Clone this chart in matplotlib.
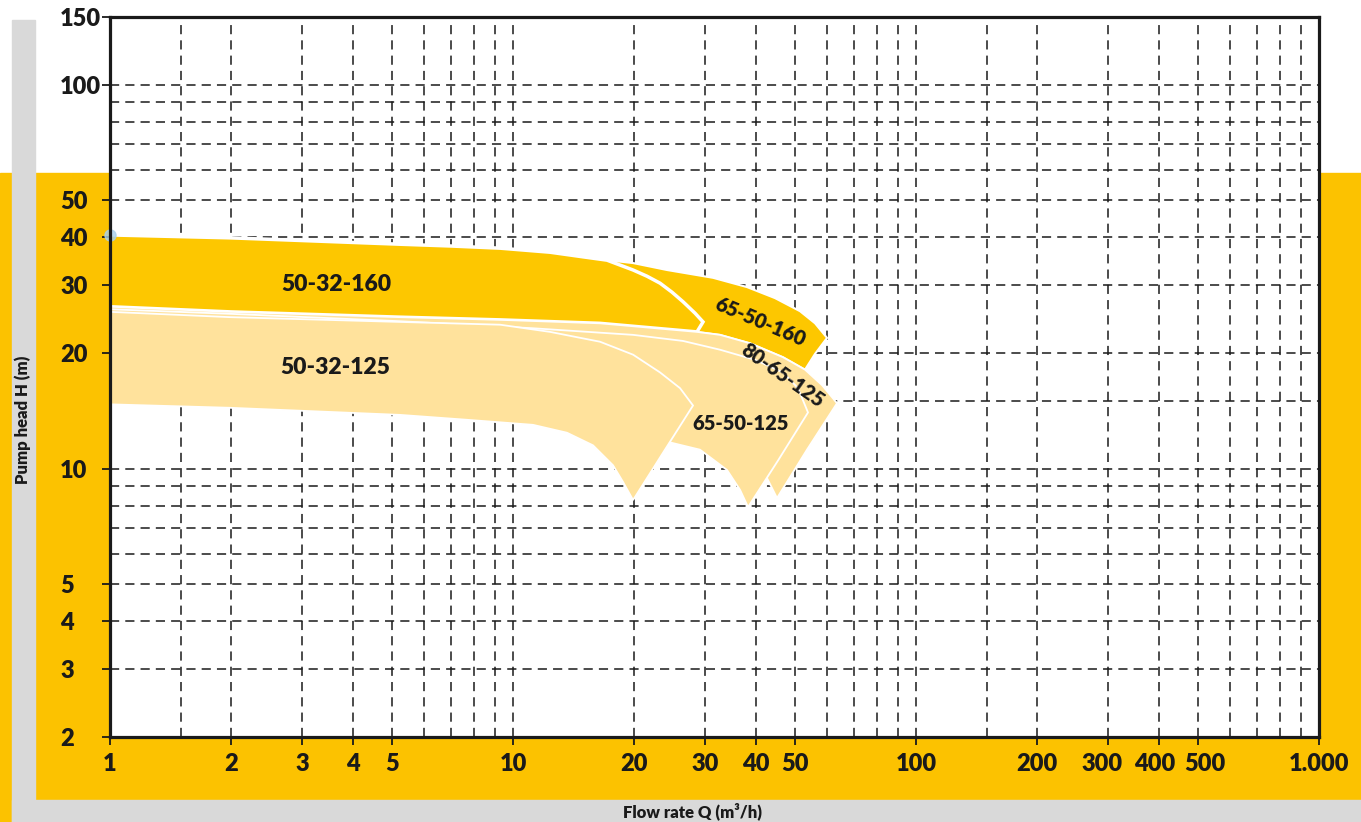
import matplotlib
matplotlib.use('Agg')
import matplotlib.pyplot as plt
from matplotlib.patches import Rectangle
from matplotlib.transforms import ScaledTranslation

# axis ticks / grid
x_ticks = [1, 2, 3, 4, 5, 10, 20, 30, 40, 50, 100, 200, 300, 400, 500, 1000]
x_labels = ['1', '2', '3', '4', '5', '10', '20', '30', '40', '50', '100', '200', '300', '400', '500', '1.000']
y_ticks = [2, 3, 4, 5, 10, 20, 30, 40, 50, 100, 150]
y_labels = ['2', '3', '4', '5', '10', '20', '30', '40', '50', '100', '150']
x_grid = [1.5, 2, 3, 4, 5, 6, 7, 8, 9, 10, 20, 30, 40, 50, 60, 70, 80, 90,
          100, 150, 200, 300, 400, 500, 600, 700, 800, 900]
y_grid = [3, 4, 5, 6, 7, 8, 9, 10, 15, 20, 30, 40, 50, 60, 70, 80, 90, 100]

# pump ranges, outline Q (m3/h) / H (m)
q_6550160 = [1, 1.985, 5.24, 6.98, 9.29, 12.36, 14.92, 17.11, 19.86, 24.11, 31.35, 38.07, 44.68,
             51.55, 56.17, 60.15, 56.17, 53.04, 46.77, 38.73, 32.63, 28.61, 16.44, 9.29, 5.24,
             1.985, 1]
h_6550160 = [40.6, 39.9, 38.4, 38.0, 37.5, 36.6, 35.6, 34.9, 34.3, 32.9, 31.4, 29.7, 27.8,
             25.7, 23.9, 21.9, 19.9, 18.1, 19.5, 21.2, 22.3, 22.7, 23.9, 24.4, 24.8,
             25.6, 26.4]

q_5032160 = [1, 1.985, 5.24, 6.98, 9.29, 12.36, 14.92, 17.11, 19.86, 21.50, 23.17, 24.81, 26.42,
             28.29, 29.62, 28.61, 16.44, 9.29, 5.24, 1.985, 1]
h_5032160 = [40.6, 39.9, 38.4, 38.0, 37.5, 36.6, 35.6, 34.9, 32.9, 31.7, 30.4, 28.8, 27.2,
             25.4, 24.1, 22.7, 23.9, 24.4, 24.8, 25.6, 26.4]

q_8065125 = [1, 1.985, 5.24, 9.29, 16.44, 28.61, 32.63, 38.73, 46.77, 53.04, 58.44, 63.68,
             53.64, 45.2, 42.68, 36.6, 16.4, 1]
h_8065125 = [26.4, 25.6, 24.8, 24.4, 23.9, 22.7, 22.3, 21.2, 19.5, 18.1, 16.5, 14.8,
             11.2, 8.38, 9.45, 11.9, 17.0, 19.2]

q_6550125 = [1, 1.985, 5.24, 11.21, 19.86, 26.42, 32.63, 39.85, 46.77, 50.96, 53.95, 45.47,
             38.3, 36.6, 33.96, 29.11, 24.52, 18.4, 1]
h_6550125 = [26.0, 25.3, 24.2, 23.2, 22.3, 21.5, 20.4, 19.2, 17.8, 16.2, 14.0, 10.5,
             7.94, 8.80, 9.92, 11.2, 11.7, 15.1, 18.6]

q_5032125 = [1, 1.985, 5.24, 9.29, 12.36, 16.44, 19.86, 23.17, 25.97, 27.97, 23.57, 19.86,
             18.75, 17.71, 15.79, 13.61, 11.21, 7.69, 5.24, 1.985, 1]
h_5032125 = [25.6, 24.8, 24.1, 23.7, 22.7, 21.4, 19.8, 17.8, 16.2, 14.6, 11.0, 8.28,
             9.23, 10.2, 11.5, 12.4, 13.0, 13.4, 13.8, 14.4, 14.7]

W, H = 1361, 822
YEL = '#FCC200'
DARK = '#FDC700'
LIGHT = '#FFE29C'
GREY = '#D9D9D9'
INK = '#1a1a1a'
WT = 'heavy'

plt.rcParams['font.family'] = ['Lato', 'DejaVu Sans']
plt.rcParams['font.weight'] = WT

fig = plt.figure(figsize=(W / 100, H / 100), dpi=100)
fig.patch.set_facecolor('white')


def band(x0, y0, x1, y1, color):
    # rectangle in figure pixels (top-left origin)
    fig.patches.append(Rectangle((x0 / W, 1 - y1 / H), (x1 - x0) / W, (y1 - y0) / H,
                                 transform=fig.transFigure, color=color, zorder=-5))


band(0, 173, W, H, YEL)
band(12, 800, W, H, GREY)
band(12, 20, 35, H, GREY)

ax = fig.add_axes([110 / W, 1 - 737 / H, (1319 - 110) / W, (737 - 17) / H])
ax.set_zorder(5)
ax.set_facecolor('white')
ax.set_xscale('log')
ax.set_yscale('log')
ax.set_xlim(1, 1000)
ax.set_ylim(2, 150)

for g in x_grid:
    ax.axvline(g, color=INK, lw=1.1, ls=(0, (6, 4)), zorder=1)
for g in y_grid:
    ax.axhline(g, color=INK, lw=1.1, ls=(0, (6, 4)), zorder=1)

ax.fill(q_6550160, h_6550160, facecolor=DARK, edgecolor='white', lw=1.5, zorder=3)
ax.fill(q_5032160, h_5032160, facecolor=DARK, edgecolor='white', lw=2.5, zorder=4)
ax.fill(q_8065125, h_8065125, facecolor=LIGHT, edgecolor='white', lw=1.3, zorder=5)
ax.fill(q_6550125, h_6550125, facecolor=LIGHT, edgecolor='white', lw=1.3, zorder=6)
ax.fill(q_5032125, h_5032125, facecolor=LIGHT, edgecolor='white', lw=1.3, zorder=7)

ax.plot([1], [40.5], 'o', color='#A9CFEA', ms=8, alpha=0.8, clip_on=False, zorder=9)

lab_kw = dict(color=INK, fontweight=WT, ha='center', va='center', zorder=10)
ax.text(3.64, 30.1, '50-32-160', fontsize=16.5, **lab_kw)
ax.text(3.62, 18.3, '50-32-125', fontsize=16.5, **lab_kw)
ax.text(41.0, 24.1, '65-50-160', fontsize=14.5, rotation=-23, **lab_kw)
ax.text(46.8, 17.5, '80-65-125', fontsize=14.5, rotation=-35, **lab_kw)
ax.text(36.6, 13.1, '65-50-125', fontsize=14.5, **lab_kw)

ax.minorticks_off()
ax.set_xticks(x_ticks, x_labels)
ax.set_yticks(y_ticks, y_labels)
ax.minorticks_off()
ax.tick_params(axis='both', direction='out', length=5.8, width=1.3, color=INK,
               labelcolor=INK, labelsize=17)
ax.tick_params(axis='x', pad=6)
ax.tick_params(axis='y', pad=30)
for t in ax.get_yticklabels():
    t.set_horizontalalignment('left')
    t.set_fontweight(WT)
# the crowded 300/400/500 labels sit slightly apart, as in the original
nudge = {'300': -6, '400': -4, '500': 7}
for t in ax.get_xticklabels():
    t.set_fontweight(WT)
    dx = nudge.get(t.get_text(), 0)
    if dx:
        t.set_transform(t.get_transform() + ScaledTranslation(dx / 100, 0, fig.dpi_scale_trans))

for s in ax.spines.values():
    s.set_linewidth(2.3)
    s.set_color(INK)
    s.set_zorder(11)

fig.text(692 / W, 1 - 811 / H, 'Flow rate Q (m\u00b3/h)', ha='center', va='center',
         fontsize=12, fontweight=WT, color=INK)
fig.text(23 / W, 1 - 420 / H, 'Pump head H (m)', ha='center', va='center', rotation=90,
         fontsize=12, fontweight=WT, color=INK)

fig.savefig('out.png', dpi=100)
